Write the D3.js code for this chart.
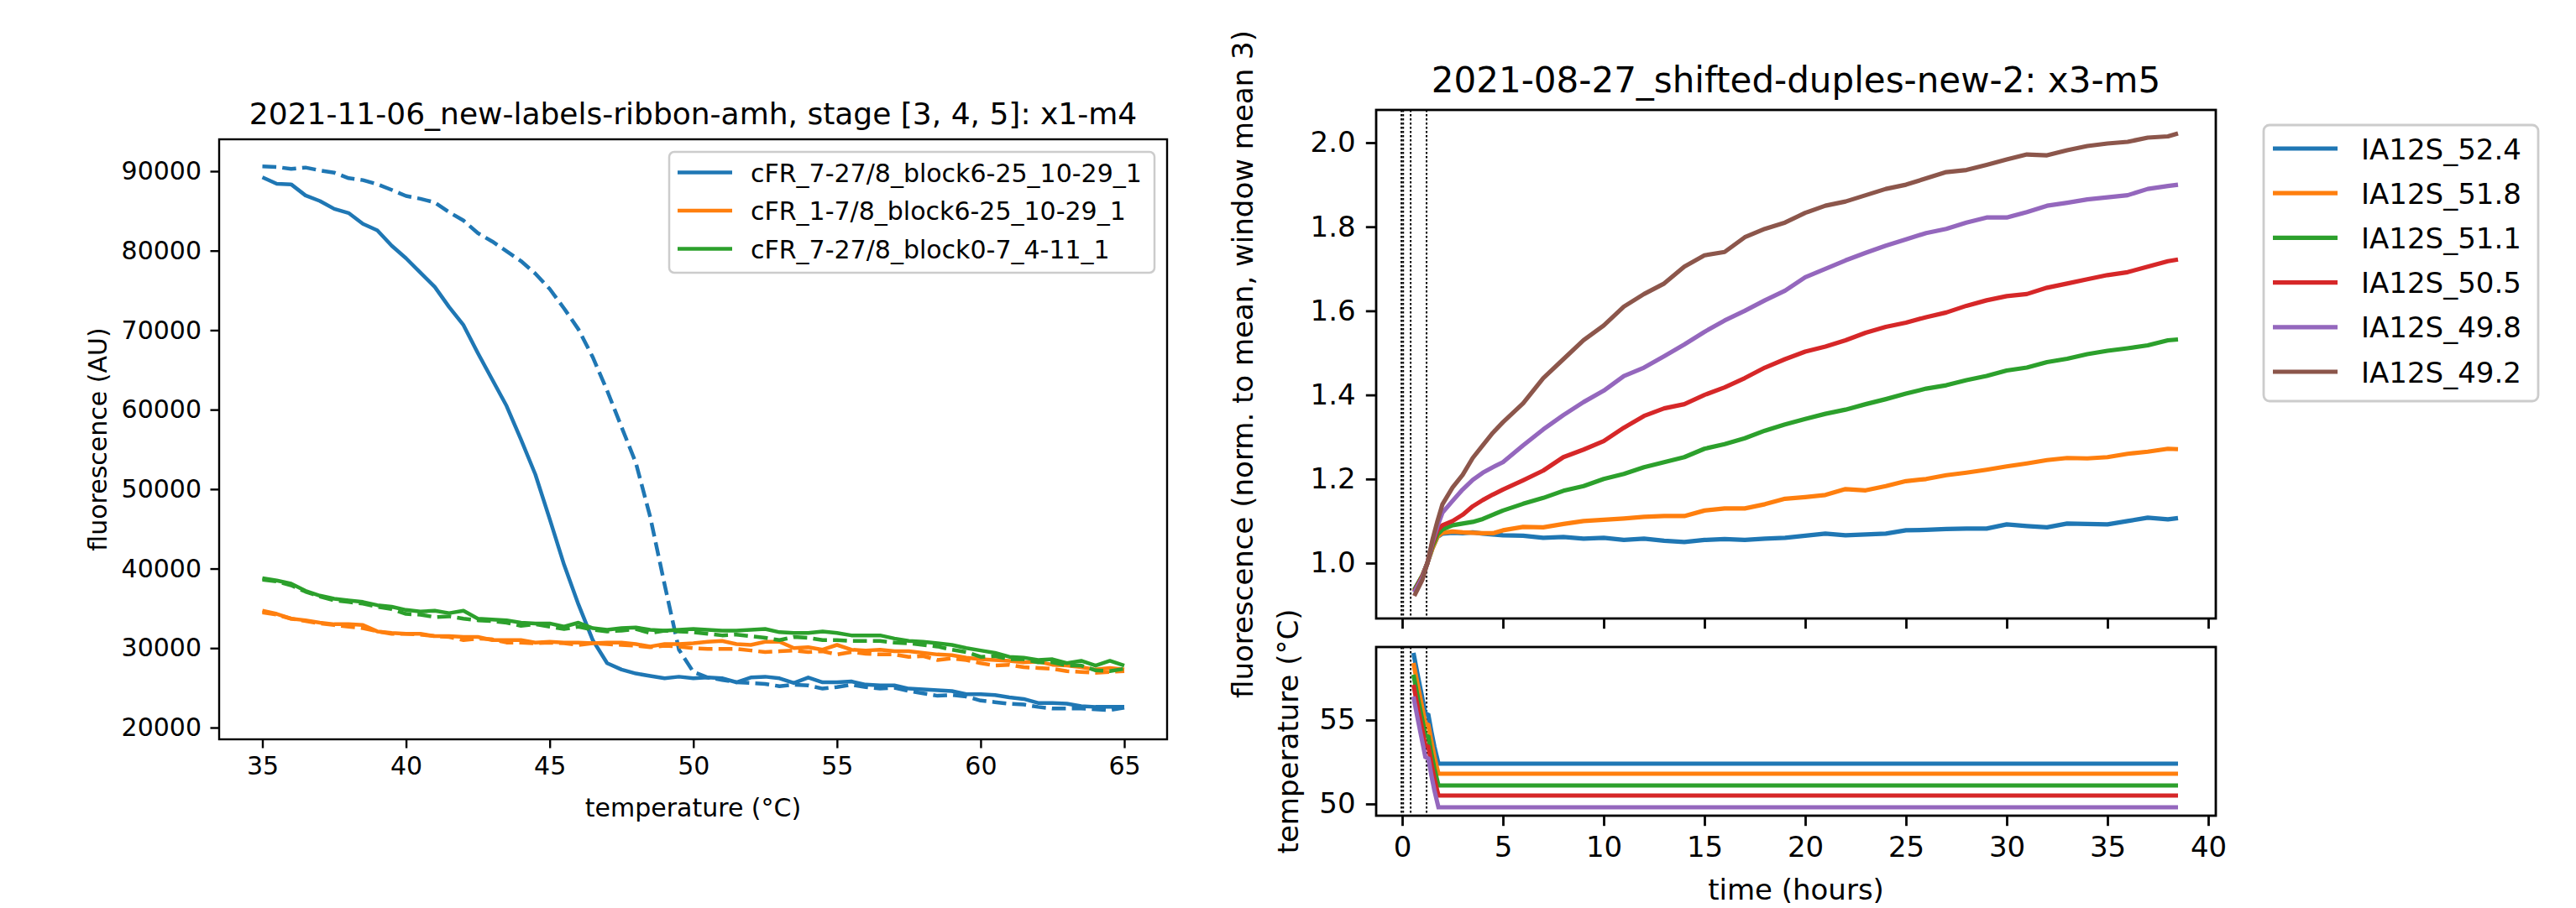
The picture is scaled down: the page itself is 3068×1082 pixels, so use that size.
<!DOCTYPE html>
<html><head><meta charset="utf-8">
<script src="https://cdn.jsdelivr.net/npm/d3@7"></script>
<style>
html,body{margin:0;padding:0;background:#fff;}
svg{display:block;font-family:"DejaVu Sans",sans-serif;}
</style></head>
<body>
<script>
// ---------- LEFT PANEL DATA ----------
const meltTemps = [35,35.5,36,36.5,37,37.5,38,38.5,39,39.5,40,40.5,41,41.5,42,42.5,43,43.5,44,44.5,45,45.5,46,46.5,47,47.5,48,48.5,49,49.5,50,50.5,51,51.5,52,52.5,53,53.5,54,54.5,55,55.5,56,56.5,57,57.5,58,58.5,59,59.5,60,60.5,61,61.5,62,62.5,63,63.5,64,64.5,65];
const meltLabels = ["cFR_7-27/8_block6-25_10-29_1","cFR_1-7/8_block6-25_10-29_1","cFR_7-27/8_block0-7_4-11_1"];
const blueSolid = [89230,88420,88350,86950,86250,85260,84740,83370,82560,80630,79050,77230,75440,72910,70630,67120,63790,60460,56250,51860,46250,40500,35500,31000,28100,27300,26800,26500,26200,26400,26200,26300,26200,25700,26300,26400,26200,25600,26300,25700,25700,25800,25400,25300,25300,24900,24800,24700,24600,24200,24200,24100,23800,23600,23100,23100,23000,22700,22600,22600,22600];
const blueDashed = [90600,90530,90280,90460,90100,89820,89120,88880,88350,87650,86880,86530,86070,84840,83790,82210,81160,79930,78700,77120,75190,72740,70110,66600,62390,57830,53300,46500,38000,29800,27000,26300,26000,25700,25600,25500,25200,25400,25300,24900,25100,25400,25100,24900,25000,24600,24300,24000,24100,23900,23400,23200,23000,22900,22600,22400,22400,22400,22300,22200,22500];
const orangeSolid = [34700,34300,33700,33500,33200,33000,33000,32900,32100,31900,31800,31800,31500,31500,31400,31400,31000,31000,31000,30700,30800,30700,30700,30600,30700,30700,30500,30200,30500,30500,30600,30800,30900,30500,30400,30800,30800,30000,30100,29800,30400,29800,29700,29800,29600,29600,29400,29200,29100,28800,28600,28500,28400,28200,28300,27900,27800,27600,27300,27500,27300];
const orangeDashed = [34500,34200,33700,33400,33100,32900,32700,32500,32100,31800,31800,31700,31500,31400,31000,31200,31100,30700,30700,30600,30700,30600,30400,30600,30500,30400,30300,30100,30300,30200,30000,29900,29900,29900,29700,29500,29600,29700,29500,29600,29200,29500,29300,29200,29200,28900,29000,28500,28700,28500,28100,27800,27900,27600,27500,27400,27100,27000,26900,27000,27100];
const greenSolid = [38800,38500,38100,37200,36600,36200,36000,35800,35400,35200,34800,34600,34700,34400,34700,33700,33600,33500,33200,33100,33100,32700,33200,32500,32300,32500,32600,32300,32200,32300,32400,32300,32200,32200,32300,32400,32000,31900,31900,32100,31900,31600,31600,31600,31200,30900,30800,30600,30400,30000,29700,29400,28900,28800,28500,28600,28100,28400,27800,28400,27800];
const greenDashed = [38600,38400,37900,37100,36500,36000,35800,35600,35200,34900,34300,34200,33900,34000,33700,33500,33400,33200,32800,33000,32700,32400,32700,32300,32100,32200,32400,31900,32200,32100,32000,31800,31600,31700,31500,31300,31000,31400,31300,31000,31000,30900,30900,30900,30700,30600,30400,30200,29800,29500,28900,29000,28600,28600,28200,28200,27800,27800,27200,27100,27400];
const meltTicksX = [35,40,45,50,55,60,65];
const meltTicksY = [20000,30000,40000,50000,60000,70000,80000,90000];

// ---------- RIGHT PANEL DATA ----------
const seriesNames = ["IA12S_52.4","IA12S_51.8","IA12S_51.1","IA12S_50.5","IA12S_49.8","IA12S_49.2"];
const hours = [0.6,1.0,1.25,1.5,1.75,2.0,2.5,3,3.5,4,4.5,5,6,7,8,9,10,11,12,13,14,15,16,17,18,19,20,21,22,23,24,25,26,27,28,29,30,31,32,33,34,35,36,37,38,38.5];
const fl524 = [0.937,0.97,1.0,1.035,1.062,1.07,1.072,1.071,1.073,1.07,1.068,1.066,1.065,1.06,1.062,1.058,1.06,1.055,1.058,1.053,1.05,1.055,1.057,1.055,1.058,1.06,1.065,1.07,1.066,1.068,1.07,1.078,1.079,1.081,1.082,1.082,1.092,1.088,1.085,1.094,1.093,1.092,1.1,1.108,1.104,1.107];
const fl518 = [0.935,0.97,1.0,1.035,1.063,1.072,1.075,1.073,1.072,1.071,1.071,1.078,1.086,1.085,1.093,1.1,1.103,1.106,1.11,1.112,1.112,1.125,1.13,1.13,1.14,1.153,1.157,1.162,1.176,1.173,1.183,1.195,1.2,1.209,1.215,1.222,1.23,1.237,1.245,1.25,1.249,1.252,1.26,1.265,1.272,1.271];
const fl511 = [0.935,0.97,1.0,1.04,1.068,1.08,1.09,1.094,1.098,1.105,1.115,1.125,1.141,1.155,1.172,1.183,1.2,1.212,1.228,1.24,1.252,1.272,1.283,1.297,1.315,1.33,1.343,1.355,1.365,1.378,1.39,1.403,1.415,1.423,1.435,1.445,1.458,1.465,1.478,1.486,1.497,1.505,1.511,1.518,1.53,1.532];
const fl505 = [0.932,0.968,1.0,1.045,1.078,1.09,1.1,1.115,1.135,1.15,1.163,1.175,1.197,1.22,1.252,1.27,1.29,1.322,1.35,1.368,1.378,1.4,1.418,1.44,1.465,1.485,1.503,1.515,1.53,1.548,1.562,1.572,1.585,1.596,1.612,1.625,1.635,1.64,1.655,1.665,1.675,1.685,1.692,1.705,1.718,1.722];
const fl498 = [0.93,0.965,1.0,1.05,1.088,1.12,1.148,1.175,1.198,1.215,1.228,1.24,1.28,1.318,1.352,1.383,1.41,1.445,1.465,1.492,1.52,1.55,1.577,1.6,1.625,1.648,1.68,1.7,1.72,1.738,1.755,1.77,1.785,1.795,1.81,1.822,1.822,1.835,1.85,1.857,1.865,1.87,1.875,1.89,1.897,1.9];
const fl492 = [0.922,0.96,1.0,1.055,1.1,1.14,1.18,1.21,1.25,1.28,1.31,1.335,1.38,1.44,1.485,1.53,1.565,1.61,1.64,1.665,1.705,1.732,1.74,1.775,1.795,1.81,1.833,1.85,1.86,1.875,1.89,1.9,1.915,1.93,1.935,1.947,1.96,1.972,1.97,1.982,1.992,1.998,2.002,2.012,2.015,2.022];
const tempHours = [0.56,0.75,0.95,1.15,1.3,1.45,1.6,1.8,38.5];
const tp524 = [59.0,57.8,56.6,55.4,55.3,54.3,53.4,52.4,52.4];
const tp518 = [58.4,57.2,56.0,54.8,54.7,53.7,52.8,51.8,51.8];
const tp511 = [57.7,56.5,55.3,54.1,54.0,53.0,52.1,51.1,51.1];
const tp505 = [57.1,55.9,54.7,53.5,53.4,52.4,51.5,50.5,50.5];
const tp498 = [56.4,55.2,54.0,52.8,52.7,51.7,50.8,49.8,49.8];
const markerHours = [-0.04,0.05,0.42,1.21];
const timeTicks = [0,5,10,15,20,25,30,35,40];
const flTicks = [1.0,1.2,1.4,1.6,1.8,2.0];
const tempTicks = [50,55];

const colors = ["#1f77b4","#ff7f0e","#2ca02c","#d62728","#9467bd","#8c564b"];

const W = 3068, H = 1082;
const svg = d3.select("body").append("svg").attr("width", W).attr("height", H);
const defs = svg.append("defs");
function clip(id, x0, y0, x1, y1){
  defs.append("clipPath").attr("id", id).append("rect")
    .attr("x", x0).attr("y", y0).attr("width", x1-x0).attr("height", y1-y0);
  return "url(#"+id+")";
}
function styleAxis(g, fs, sw){
  g.select(".domain").remove();
  g.selectAll(".tick line").attr("stroke","#000").attr("stroke-width", sw);
  g.selectAll(".tick text").attr("fill","#000").attr("font-size", fs).attr("font-family","DejaVu Sans");
}

// ================= LEFT PANEL =================
const L = {x0:261, x1:1390, y0:166, y1:881};
const xL = d3.scaleLinear().domain([35,65]).range([312.5,1339]);
const yL = d3.scaleLinear().domain([20000,90000]).range([867,204]);
const fsL = 30, lwL = 4.5, spL = 2.4, tkL = 10.5;

const clipL = clip("clipL", L.x0, L.y0, L.x1, L.y1);
const meltSeries = [
  {v: blueSolid, c: colors[0], dash: null},
  {v: blueDashed, c: colors[0], dash: "16.6,7.2"},
  {v: orangeSolid, c: colors[1], dash: null},
  {v: orangeDashed, c: colors[1], dash: "16.6,7.2"},
  {v: greenSolid, c: colors[2], dash: null},
  {v: greenDashed, c: colors[2], dash: "16.6,7.2"}
];
const lineL = d3.line().x(d => xL(d[0])).y(d => yL(d[1]));
const gL = svg.append("g").attr("clip-path", clipL);
meltSeries.forEach(s => {
  gL.append("path").datum(meltTemps.map((t,i)=>[t, s.v[i]]))
    .attr("d", lineL).attr("fill","none").attr("stroke", s.c)
    .attr("stroke-width", lwL).attr("stroke-linejoin","round").attr("stroke-linecap","butt")
    .attr("stroke-dasharray", s.dash);
});
svg.append("rect").attr("x",L.x0).attr("y",L.y0).attr("width",L.x1-L.x0).attr("height",L.y1-L.y0)
  .attr("fill","none").attr("stroke","#000").attr("stroke-width",spL);
const axLx = svg.append("g").attr("transform",`translate(0,${L.y1})`)
  .call(d3.axisBottom(xL).tickValues(meltTicksX).tickSize(tkL).tickPadding(10.5).tickFormat(d3.format("d")));
styleAxis(axLx, fsL, spL);
const axLy = svg.append("g").attr("transform",`translate(${L.x0},0)`)
  .call(d3.axisLeft(yL).tickValues(meltTicksY).tickSize(tkL).tickPadding(10.5).tickFormat(d3.format("d")));
styleAxis(axLy, fsL, spL);
svg.append("text").attr("x",(L.x0+L.x1)/2).attr("y",148).attr("text-anchor","middle")
  .attr("font-size",36).text("2021-11-06_new-labels-ribbon-amh, stage [3, 4, 5]: x1-m4");
svg.append("text").attr("x",(L.x0+L.x1)/2).attr("y",973).attr("text-anchor","middle")
  .attr("font-size",fsL).text("temperature (°C)");
svg.append("text").attr("transform",`translate(127,${(L.y0+L.y1)/2}) rotate(-90)`).attr("text-anchor","middle")
  .attr("font-size",fsL).text("fluorescence (AU)");
// left legend
const legL = svg.append("g");
legL.append("rect").attr("x",797).attr("y",181).attr("width",578).attr("height",144).attr("rx",6)
  .attr("fill","#fff").attr("fill-opacity",0.8).attr("stroke","#cccccc").attr("stroke-width",2.5);
meltLabels.forEach((lab,i) => {
  const y = 205.5 + i*45.5;
  legL.append("line").attr("x1",807).attr("x2",872).attr("y1",y).attr("y2",y)
    .attr("stroke",colors[i]).attr("stroke-width",lwL);
  legL.append("text").attr("x",894).attr("y",y+11).attr("font-size",fsL).text(lab);
});

// ================= RIGHT PANELS =================
const R = {x0:1639, x1:2639, y0:131, y1:737};
const B = {x0:1639, x1:2639, y0:771, y1:972};
const fsR = 34, lwR = 5.2, spR = 2.8, tkR = 12.2;
const xR = d3.scaleLinear().domain([0,40]).range([1670,2630]);
const yR = d3.scaleLinear().domain([1.0,2.0]).range([671,170]);
const yB = d3.scaleLinear().domain([50,55]).range([958,858]);

const flSeries = [fl524, fl518, fl511, fl505, fl498, fl492];
const tpSeries = [tp524, tp518, tp511, tp505, tp498];

const clipR = clip("clipR", R.x0, R.y0, R.x1, R.y1);
const clipB = clip("clipB", B.x0, B.y0, B.x1, B.y1);

// marker lines
[[R, clipR],[B, clipB]].forEach(([P, cp]) => {
  const g = svg.append("g").attr("clip-path", cp);
  markerHours.forEach(h => {
    g.append("line").attr("x1",xR(h)).attr("x2",xR(h)).attr("y1",P.y0).attr("y2",P.y1)
      .attr("stroke","#000").attr("stroke-width",2).attr("stroke-dasharray","2.5,2.5");
  });
});

const gR = svg.append("g").attr("clip-path", clipR);
const lineR = d3.line().x(d => xR(d[0])).y(d => yR(d[1]));
flSeries.forEach((s,i) => {
  gR.append("path").datum(hours.map((h,j)=>[h, s[j]])).attr("d", lineR)
    .attr("fill","none").attr("stroke",colors[i]).attr("stroke-width",lwR).attr("stroke-linejoin","round");
});
const gB = svg.append("g").attr("clip-path", clipB);
const lineB = d3.line().x(d => xR(d[0])).y(d => yB(d[1]));
tpSeries.forEach((s,i) => {
  gB.append("path").datum(tempHours.map((h,j)=>[h, s[j]])).attr("d", lineB)
    .attr("fill","none").attr("stroke",colors[i]).attr("stroke-width",lwR).attr("stroke-linejoin","miter");
});

[R,B].forEach(P => {
  svg.append("rect").attr("x",P.x0).attr("y",P.y0).attr("width",P.x1-P.x0).attr("height",P.y1-P.y0)
    .attr("fill","none").attr("stroke","#000").attr("stroke-width",spR);
});
const axRx = svg.append("g").attr("transform",`translate(0,${R.y1})`)
  .call(d3.axisBottom(xR).tickValues(timeTicks).tickSize(tkR).tickFormat(""));
styleAxis(axRx, fsR, spR);
const axRy = svg.append("g").attr("transform",`translate(${R.x0},0)`)
  .call(d3.axisLeft(yR).tickValues(flTicks).tickSize(tkR).tickPadding(12.2).tickFormat(d3.format(".1f")));
styleAxis(axRy, fsR, spR);
const axBx = svg.append("g").attr("transform",`translate(0,${B.y1})`)
  .call(d3.axisBottom(xR).tickValues(timeTicks).tickSize(tkR).tickPadding(12.2).tickFormat(d3.format("d")));
styleAxis(axBx, fsR, spR);
const axBy = svg.append("g").attr("transform",`translate(${B.x0},0)`)
  .call(d3.axisLeft(yB).tickValues(tempTicks).tickSize(tkR).tickPadding(12.2).tickFormat(d3.format("d")));
styleAxis(axBy, fsR, spR);

svg.append("text").attr("x",(R.x0+R.x1)/2).attr("y",110).attr("text-anchor","middle")
  .attr("font-size",42).text("2021-08-27_shifted-duples-new-2: x3-m5");
svg.append("text").attr("x",(B.x0+B.x1)/2).attr("y",1072).attr("text-anchor","middle")
  .attr("font-size",fsR).text("time (hours)");
svg.append("text").attr("transform",`translate(1492,${(R.y0+R.y1)/2}) rotate(-90)`).attr("text-anchor","middle")
  .attr("font-size",fsR).text("fluorescence (norm. to mean, window mean 3)");
svg.append("text").attr("transform",`translate(1546,${(B.y0+B.y1)/2}) rotate(-90)`).attr("text-anchor","middle")
  .attr("font-size",fsR).text("temperature (°C)");

// right legend
const legR = svg.append("g");
legR.append("rect").attr("x",2696).attr("y",149).attr("width",327).attr("height",329).attr("rx",7)
  .attr("fill","#fff").attr("fill-opacity",0.8).attr("stroke","#cccccc").attr("stroke-width",2.8);
seriesNames.forEach((lab,i) => {
  const y = 177 + i*53.2;
  legR.append("line").attr("x1",2707).attr("x2",2784).attr("y1",y).attr("y2",y)
    .attr("stroke",colors[i]).attr("stroke-width",lwR);
  legR.append("text").attr("x",2812).attr("y",y+12.5).attr("font-size",fsR).text(lab);
});
</script>
</body></html>
